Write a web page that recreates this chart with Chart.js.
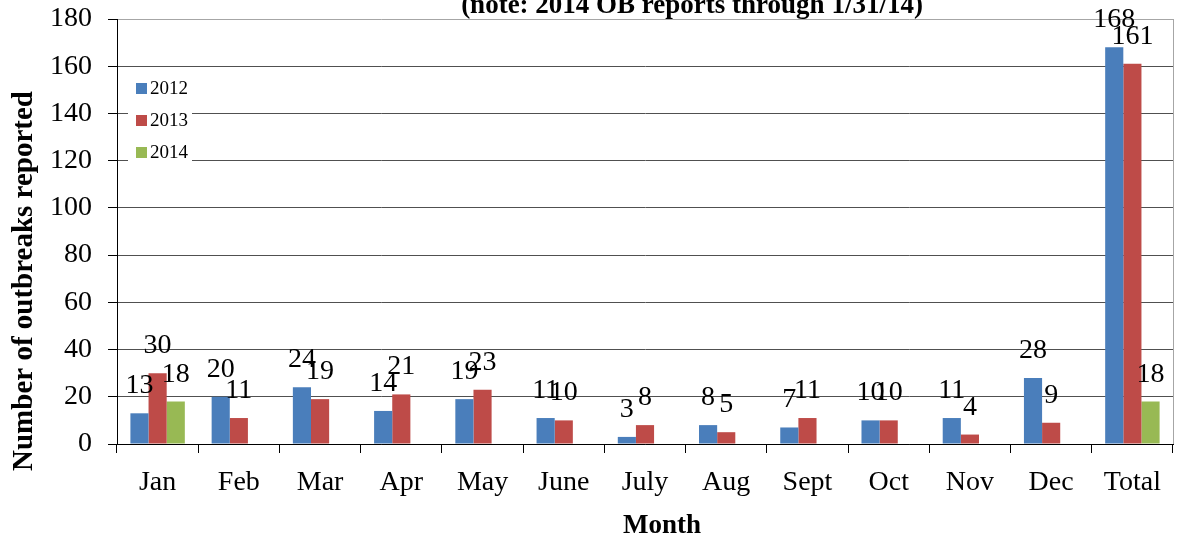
<!DOCTYPE html>
<html>
<head>
<meta charset="utf-8">
<script src="https://cdn.jsdelivr.net/npm/chart.js@4.4.1/dist/chart.umd.min.js"></script>
<style>
    html, body { margin: 0; padding: 0; background: #fff; }
    #wrap { width: 1177px; height: 541px; position: relative; }
</style>
</head>
<body>
<div id="wrap"><canvas id="outbreaks"></canvas></div>
<script>
// Data
const months = ['Jan', 'Feb', 'Mar', 'Apr', 'May', 'June', 'July', 'Aug', 'Sept', 'Oct', 'Nov', 'Dec', 'Total'];
const values2012 = [13, 20, 24, 14, 19, 11, 3, 8, 7, 10, 11, 28, 168];
const values2013 = [30, 11, 19, 21, 23, 10, 8, 5, 11, 10, 4, 9, 161];
const values2014 = [18, null, null, null, null, null, null, null, null, null, null, null, 18];
const yTicks = [0, 20, 40, 60, 80, 100, 120, 140, 160, 180];

const serif = '"Liberation Serif", "DejaVu Serif", serif';

// value labels above every bar
const barLabels = {
    id: 'barLabels',
    afterDatasetsDraw(chart) {
        const ctx = chart.ctx;
        ctx.save();
        ctx.font = '28px ' + serif;
        ctx.fillStyle = '#000';
        ctx.textAlign = 'center';
        ctx.textBaseline = 'alphabetic';
        chart.data.datasets.forEach((ds, i) => {
            const meta = chart.getDatasetMeta(i);
            meta.data.forEach((bar, j) => {
                const v = ds.data[j];
                if (v === null || v === undefined) return;
                ctx.fillText(String(v), bar.x, bar.y - 20);
            });
        });
        ctx.restore();
    }
};

// legend box inside the plot, title and axis titles
const extras = {
    id: 'extras',
    afterDraw(chart) {
        const ctx = chart.ctx;
        const area = chart.chartArea;
        ctx.save();

        // right border of the plot
        ctx.strokeStyle = '#a6a6a6';
        ctx.lineWidth = 1;
        ctx.beginPath();
        ctx.moveTo(area.right + 0.5, area.top);
        ctx.lineTo(area.right + 0.5, area.bottom);
        ctx.stroke();

        // legend
        ctx.fillStyle = '#fff';
        ctx.fillRect(128, 70, 64, 96);
        ctx.font = '19px ' + serif;
        ctx.textAlign = 'left';
        ctx.textBaseline = 'middle';
        chart.data.datasets.forEach((ds, i) => {
            const y = 88 + i * 32;
            ctx.fillStyle = ds.backgroundColor;
            ctx.fillRect(136, y - 5, 11, 11);
            ctx.fillStyle = '#000';
            ctx.fillText(ds.label, 150, y + 1);
        });

        // title (cut at the top like the original)
        ctx.font = 'bold 27px ' + serif;
        ctx.textAlign = 'center';
        ctx.textBaseline = 'alphabetic';
        ctx.fillText('(note: 2014 OB reports through 1/31/14)', 692, 13);

        // x axis title
        ctx.fillText('Month', 662, 533);

        // y axis title
        ctx.font = 'bold 29px ' + serif;
        ctx.translate(32, 281);
        ctx.rotate(-Math.PI / 2);
        ctx.fillText('Number of outbreaks reported', 0, 0);
        ctx.restore();
    }
};

const outbreakChart = new Chart(document.getElementById('outbreaks'), {
    type: 'bar',
    data: {
        labels: months,
        datasets: [
            {
                label: '2012',
                data: values2012,
                backgroundColor: '#4a7ebb',
                borderWidth: 0
            },
            {
                label: '2013',
                data: values2013,
                backgroundColor: '#be4b48',
                borderWidth: 0
            },
            {
                label: '2014',
                data: values2014,
                backgroundColor: '#98b954',
                borderWidth: 0
            }
        ]
    },
    options: {
        responsive: true,
        maintainAspectRatio: false,
        animation: false,
        layout: {
            autoPadding: false,
            padding: { top: 19, right: 4, left: 0, bottom: 0 }
        },
        plugins: {
            legend: { display: false },
            title: { display: false },
            tooltip: { enabled: false }
        },
        datasets: {
            bar: { categoryPercentage: 0.67, barPercentage: 1.0 }
        },
        scales: {
            x: {
                afterFit: (scale) => {
                    scale.height = 97;
                    scale.paddingLeft = 0;
                    scale.paddingRight = 0;
                },
                grid: {
                    offset: true,
                    drawOnChartArea: false,
                    drawTicks: true,
                    tickLength: 9,
                    color: '#000'
                },
                border: { display: true, color: '#000', width: 1 },
                ticks: {
                    font: { family: serif, size: 28 },
                    color: '#000',
                    padding: 13
                }
            },
            y: {
                min: 0,
                max: 180,
                afterFit: (scale) => {
                    scale.width = 117;
                    scale.paddingTop = 0;
                    scale.paddingBottom = 0;
                },
                afterBuildTicks: (scale) => {
                    scale.ticks = yTicks.map(v => ({ value: v }));
                },
                grid: {
                    color: (c) => (c.tick && c.tick.value === 180) ? '#a6a6a6' : '#505050',
                    drawTicks: true,
                    tickLength: 9,
                    tickColor: '#000'
                },
                border: { display: true, color: '#000', width: 1 },
                ticks: {
                    font: { family: serif, size: 28 },
                    color: '#000',
                    padding: 16
                }
            }
        }
    },
    plugins: [barLabels, extras]
});
</script>
</body>
</html>
